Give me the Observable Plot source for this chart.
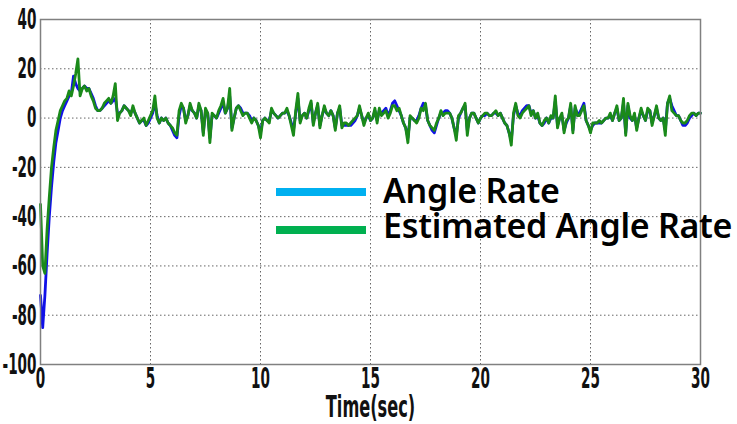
<!DOCTYPE html>
<html>
<head>
<meta charset="utf-8">
<script src="https://cdn.jsdelivr.net/npm/d3@7"></script>
<script src="https://cdn.jsdelivr.net/npm/@observablehq/plot@0.6"></script>
<style>
  html, body { margin: 0; padding: 0; background: #fff; }
  #wrap { position: relative; width: 737px; height: 424px; }
  .sw { position: absolute; height: 8px; width: 90px; left: 276px; }
  .lt { position: absolute; left: 383px; font-family: "Noto Sans", sans-serif; font-weight: 600; font-size: 34px; line-height: 34px; letter-spacing: -0.3px; color: #000; white-space: nowrap; }
  svg [aria-label="y-axis tick label"] text, svg [aria-label="x-axis tick label"] text { font-size: 29px; }
  svg [aria-label="x-axis label"] text { font-size: 31px; }
</style>
</head>
<body>
<div id="wrap"></div>
<script>
// Angle Rate (blue), sampled every 0.1 s from 0 to 30 s
const angleRate = [
  -72, -85, -72, -55, -40, -28, -18, -10, -5, 0,
  3, 5, 7, 9, 10, 17, 14, 12, 11, 12,
  13, 12, 12, 10, 8, 5, 3, 3, 4, 5,
  6, 7, 6, 7, 8, 2, 2, 3, 5, 4,
  3, 2, 4, 2, 0, -2, -1, -1, -3, -2,
  0, 2, 6, 1, -2, 0, -1, 0, -2, -3,
  -5, -7, -8, 1, 5, 4, -1, 1, 5, 3,
  2, 0, 5, 3, -6, 3, 2, -8, 1, 1,
  0, 2, 4, 6, 2, 4, 9, -4, 0, 4,
  5, 4, 2, 2, 2, 1, -1, 0, -1, -3,
  -6, -1, 0, -1, -1, 3, 2, 1, 0, 1,
  2, 2, 3, 1, -2, -5, 2, 8, -1, 1,
  2, 0, 3, 6, -2, 2, 5, -3, 1, 4,
  2, 1, 3, 1, -4, 2, 4, -3, -3, -3,
  -3, -3, -2, -1, 1, 4, 1, -2, 0, 1,
  -1, 0, 3, -1, 3, 2, 3, 4, 1, 3,
  6, 7, 5, 3, 1, -2, -4, -8, 0, 0,
  -1, -1, 1, 4, 6, 5, -1, -3, -5, -6,
  -3, 0, 2, 2, 3, 3, 2, 0, -4, -7,
  0, 2, 4, 5, -5, 0, 2, 2, 0, -2,
  0, 1, 1, 2, 1, 1, 2, 2, 1, 2,
  0, -2, -3, -6, -9, 1, 5, 2, 1, 3,
  4, 5, 5, 2, 3, 0, 1, -2, -3, -2,
  0, -2, 0, 0, 7, -3, 0, 1, -5, -2,
  0, 5, -5, 4, 2, 2, 4, 6, -1, -3,
  -5, -3, -2, -2, -2, -2, -1, 0, 0, 1,
  -1, 2, 4, -1, 0, 6, -6, 5, 0, -1,
  1, -4, 0, 3, 1, -1, 3, 3, -2, 1,
  4, 0, -1, 0, -5, 6, 8, 5, 3, 1,
  1, -1, -3, -3, -2, 0, 1, 2, 1, 2,
  2
];
// Estimated Angle Rate (green), same sampling
const estimatedRate = [
  -35, -60, -63, -45, -32, -20, -12, -5, -1, 3,
  5, 7, 8, 11, 9, 13, 18, 24, 9, 12,
  13, 11, 12, 9, 7, 4, 3, 3, 4, 6,
  7, 8, 6, 9, 14, -1, 2, 3, 5, 4,
  3, 1, 5, 2, 0, -2, -1, 0, -3, -1,
  1, 3, 9, 0, -2, 0, -1, 0, -2, -3,
  -4, -6, -7, 3, 6, 4, -2, 1, 6, 3,
  2, 0, 6, 3, -7, 4, 2, -10, 2, 1,
  0, 3, 5, 8, 2, 4, 12, -5, 0, 4,
  5, 3, 1, 2, 2, 0, -2, 0, -1, -3,
  -8, -1, 0, -1, -2, 4, 2, 1, 0, 1,
  2, 2, 4, 1, -3, -7, 3, 10, -2, 1,
  2, 0, 4, 7, -3, 2, 6, -4, 1, 5,
  2, 1, 3, 1, -5, 2, 5, -4, -2, -2,
  -3, -2, -1, 0, 1, 5, 1, -3, 0, 2,
  -1, 0, 4, -2, 4, 1, 2, 3, 0, 2,
  5, 5, 3, 4, 1, -2, -4, -10, 1, 0,
  -1, -2, 0, 4, 3, 6, -1, -3, -4, -5,
  -2, 0, 3, 1, 2, 2, 2, 0, -4, -9,
  1, 2, 4, 6, -7, 0, 2, 2, 0, -2,
  0, 1, 2, 2, 1, 1, 2, 3, 1, 2,
  0, -2, -3, -6, -11, 2, 6, 1, 0, 2,
  3, 4, 5, 1, 3, 0, 2, -2, -3, -1,
  0, -2, 1, 0, 9, -4, 0, 2, -6, -1,
  0, 6, -6, 5, 1, 1, 3, 5, -1, -3,
  -6, -2, -2, -2, -1, -2, -1, 0, 0, 2,
  -1, 2, 5, -1, 0, 8, -7, 6, 1, -1,
  2, -5, 0, 4, 1, -1, 4, 3, -3, 1,
  5, 0, -1, 0, -7, 6, 9, 3, 2, 1,
  1, -1, -2, -2, -1, 1, 2, 2, 1, 2,
  2
];
const sampleStep = 0.1;
const xTicks = [0, 5, 10, 15, 20, 25, 30];
const yTicks = [-100, -80, -60, -40, -20, 0, 20, 40];
const seriesNames = ["Angle Rate", "Estimated Angle Rate"];
const lineColors = ["#1010e8", "#1a8a1a"];
const legendColors = ["#00b0f0", "#00b050"];

const rowsA = angleRate.map((v, i) => ({t: i * sampleStep, v}));
const rowsE = estimatedRate.map((v, i) => ({t: i * sampleStep, v}));

const tickFamily = "'DejaVu Sans Condensed', 'DejaVu Sans', sans-serif";

const chart = Plot.plot({
  width: 737,
  height: 424,
  marginLeft: 40,
  marginRight: 37,
  marginTop: 19,
  marginBottom: 60,
  style: {fontFamily: tickFamily, fontWeight: "bold", fontSize: "29px", color: "#111", background: "#fff"},
  x: {domain: [0, 30]},
  y: {domain: [-100, 40]},
  marks: [
    Plot.gridX(xTicks, {stroke: "#666", strokeOpacity: 1, strokeDasharray: "1.5,2.5"}),
    Plot.gridY(yTicks, {stroke: "#666", strokeOpacity: 1, strokeDasharray: "1.5,2.5"}),
    Plot.line(rowsA, {x: "t", y: "v", stroke: lineColors[0], strokeWidth: 2.8}),
    Plot.line(rowsE, {x: "t", y: "v", stroke: lineColors[1], strokeWidth: 2.8}),
    Plot.frame({stroke: "#808080", strokeWidth: 1.5}),
    Plot.axisY(yTicks, {tickSize: 0, tickPadding: 4, tickFormat: d => String(d), label: null}),
    Plot.axisX(xTicks, {tickSize: 0, tickPadding: 3, tickFormat: d => String(d), label: "Time(sec)", labelAnchor: "center", labelArrow: "none", labelOffset: 52})
  ]
});

// condense the axis lettering horizontally
chart.querySelectorAll('[aria-label="y-axis tick label"] text, [aria-label="x-axis tick label"] text').forEach(t => {
  const tr = t.getAttribute("transform") || "";
  t.setAttribute("transform", tr + " scale(0.52,1)");
});
chart.querySelectorAll('[aria-label="x-axis label"] text').forEach(t => {
  const tr = t.getAttribute("transform") || "";
  t.setAttribute("transform", tr + " scale(0.58,1)");
});

const wrap = document.getElementById("wrap");
wrap.appendChild(chart);

const legendTops = [188, 226];
const textTops = [173, 208];
seriesNames.forEach((name, i) => {
  const sw = document.createElement("div");
  sw.className = "sw";
  sw.style.top = legendTops[i] + "px";
  sw.style.background = legendColors[i];
  wrap.appendChild(sw);
  const lt = document.createElement("div");
  lt.className = "lt";
  lt.style.top = textTops[i] + "px";
  lt.textContent = name;
  wrap.appendChild(lt);
});
</script>
</body>
</html>
